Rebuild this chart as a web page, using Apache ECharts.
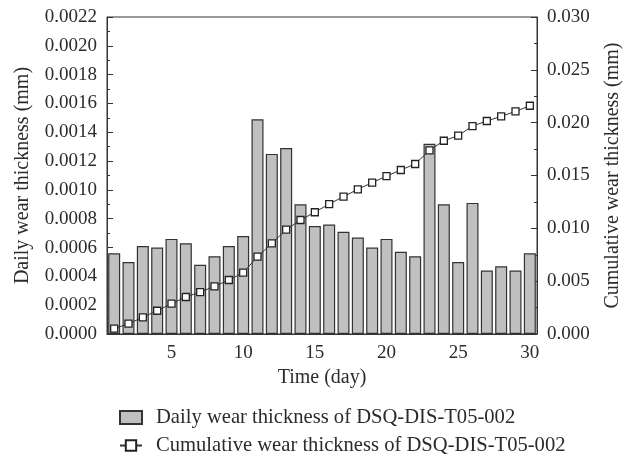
<!DOCTYPE html>
<html>
<head>
<meta charset="utf-8">
<script src="https://cdn.jsdelivr.net/npm/echarts@6/dist/echarts.min.js"></script>
<style>html,body{margin:0;padding:0;background:#fff;}#c{width:624px;height:459px;}</style>
</head>
<body>
<div id="c"></div>
<script>
const days = [1,2,3,4,5,6,7,8,9,10,11,12,13,14,15,16,17,18,19,20,21,22,23,24,25,26,27,28,29,30];
const dailyWear = [0.00056,0.00050,0.00061,0.00060,0.00066,0.00063,0.00048,0.00054,0.00061,0.00068,
  0.00149,0.00125,0.00129,0.00090,0.00075,0.00076,0.00071,0.00067,0.00060,0.00066,
  0.00057,0.00054,0.00132,0.00090,0.00050,0.00091,0.00044,0.00047,0.00044,0.00056];
const cumulativeWear = [0.0005,0.00098,0.00158,0.0022,0.00287,0.0035,0.00397,0.00451,0.00511,0.0058,
  0.00732,0.00858,0.00987,0.01079,0.01152,0.0123,0.0130,0.01369,0.01432,0.01495,
  0.01552,0.01609,0.01738,0.01829,0.01877,0.01968,0.02016,0.0206,0.02107,0.0216];
const dailyName = 'Daily wear thickness of DSQ-DIS-T05-002';
const cumName = 'Cumulative wear thickness of DSQ-DIS-T05-002';

const FONT = 'Liberation Serif';
const ink = '#2b2b2b';
const legendBase = {
  orient: 'vertical', left: 119, padding: 0, itemWidth: 22, itemHeight: 13,
  textStyle: {fontFamily: FONT, fontSize: 20.6, color: ink, padding: [0, 0, 0, 9]}
};
const chart = echarts.init(document.getElementById('c'), null, {renderer: 'canvas'});
chart.setOption({
  backgroundColor: '#fff',
  animation: false,
  textStyle: {fontFamily: FONT, color: ink},
  grid: {left: 107, right: 87, top: 17, bottom: 125, outerBoundsMode: 'none', containLabel: false,
    show: true, borderColor: '#333', borderWidth: 1, backgroundColor: 'transparent'},
  legend: [
    Object.assign({}, legendBase, {top: 407, data: [{name: dailyName, icon: 'rect'}]}),
    Object.assign({}, legendBase, {top: 435, data: [{name: cumName}]})
  ],
  xAxis: {
    type: 'category', data: days,
    name: 'Time (day)', nameLocation: 'middle', nameGap: 23,
    nameTextStyle: {fontFamily: FONT, fontSize: 20, color: ink},
    axisLine: {lineStyle: {color: '#333', width: 1}},
    axisTick: {inside: true, length: 5, alignWithLabel: true, interval: (i) => (i + 1) % 5 === 0, lineStyle: {color: '#333'}},
    axisLabel: {interval: (i) => (i + 1) % 5 === 0, fontFamily: FONT, fontSize: 19, color: ink, margin: 10}
  },
  yAxis: [{
    type: 'value', min: 0, max: 0.0022, interval: 0.0002,
    name: 'Daily wear thickness (mm)', nameLocation: 'middle', nameGap: 74,
    nameTextStyle: {fontFamily: FONT, fontSize: 20, color: ink},
    axisLine: {show: true, lineStyle: {color: '#333', width: 1}},
    axisTick: {show: true, inside: true, length: 6, lineStyle: {color: '#333'}},
    minorTick: {show: true, splitNumber: 2, length: 3, lineStyle: {color: '#333'}},
    splitLine: {show: false},
    axisLabel: {fontFamily: FONT, fontSize: 19, color: ink, margin: 10, formatter: (v) => v.toFixed(4)}
  }, {
    type: 'value', min: 0, max: 0.03, interval: 0.005, position: 'right',
    name: 'Cumulative wear thickness (mm)', nameLocation: 'middle', nameGap: 66,
    nameTextStyle: {fontFamily: FONT, fontSize: 20, color: ink},
    axisLine: {show: true, lineStyle: {color: '#333', width: 1}},
    axisTick: {show: true, inside: true, length: 6, lineStyle: {color: '#333'}},
    minorTick: {show: true, splitNumber: 2, length: 3, lineStyle: {color: '#333'}},
    splitLine: {show: false},
    axisLabel: {fontFamily: FONT, fontSize: 19, color: ink, margin: 10, formatter: (v) => v.toFixed(3)}
  }],
  series: [{
    name: dailyName, type: 'bar', data: dailyWear, yAxisIndex: 0,
    barWidth: 12,
    itemStyle: {color: '#c0c0c0', borderColor: '#333', borderWidth: 1.2}
  }, {
    name: cumName, type: 'line', data: cumulativeWear, yAxisIndex: 1,
    symbol: 'rect', symbolSize: 7, showAllSymbol: true,
    lineStyle: {color: '#333', width: 1},
    itemStyle: {color: '#fff', borderColor: '#222', borderWidth: 1.3},
    z: 5
  }]
});
</script>
</body>
</html>
